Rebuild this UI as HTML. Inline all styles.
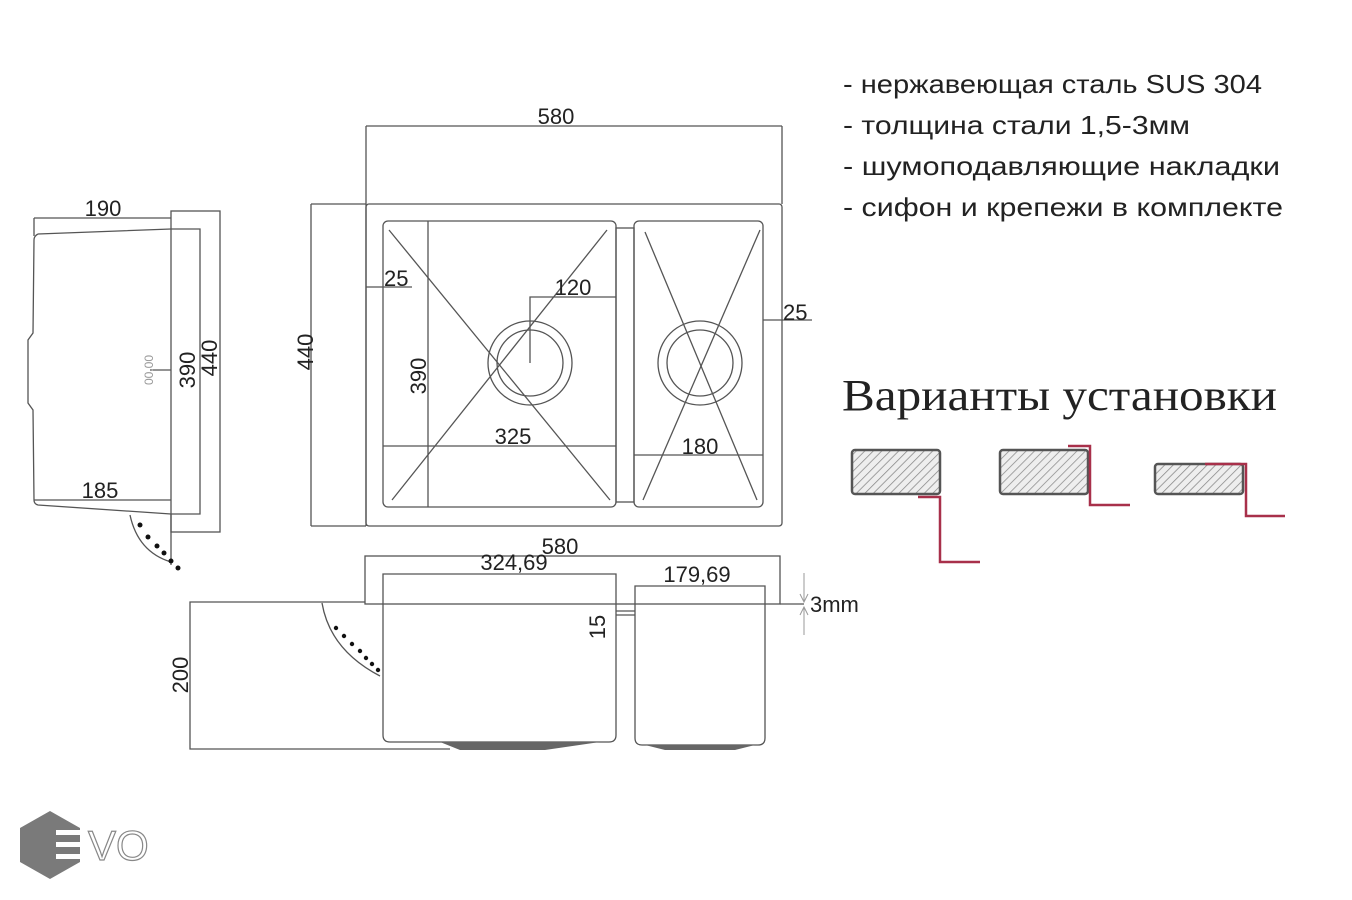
<!DOCTYPE html>
<html><head><meta charset="utf-8"><style>
body{margin:0;background:#fff;}
svg{display:block}
</style></head><body>
<svg width="1352" height="900" viewBox="0 0 1352 900" xmlns="http://www.w3.org/2000/svg">
<defs>
<pattern id="h" width="6" height="6" patternUnits="userSpaceOnUse" patternTransform="rotate(45)">
<rect width="6" height="6" fill="#eee"/><line x1="0" y1="0" x2="0" y2="6" stroke="#888" stroke-width="1.5"/>
</pattern>
</defs>
<g fill="none" stroke="#555" stroke-width="1.3">
<line x1="34" y1="218" x2="171" y2="218"/>
<line x1="34" y1="218" x2="34" y2="236"/>
<rect x="171" y="211" width="49" height="321"/>
<polyline points="171,229 200,229 200,514 171,514"/>
<path d="M38,234 L171,229 M38,234 Q34,236 34,240 L33,333 L28,340 L28,403 L33,410 L34,500 Q34,504 38,505 L171,514"/>
<line x1="34" y1="500" x2="171" y2="500"/>
<line x1="150" y1="370" x2="171" y2="370"/>
<path d="M130,515 Q138,552 171,562"/>
<line x1="171" y1="514" x2="171" y2="565"/>
<line x1="366" y1="126" x2="782" y2="126"/>
<line x1="366" y1="126" x2="366" y2="526"/>
<line x1="782" y1="126" x2="782" y2="204"/>
<rect x="366" y="204" width="416" height="322" rx="3"/>
<line x1="311" y1="204" x2="366" y2="204"/>
<line x1="311" y1="204" x2="311" y2="526"/>
<line x1="311" y1="526" x2="366" y2="526"/>
<rect x="383" y="221" width="233" height="286" rx="5"/>
<rect x="634" y="221" width="129" height="286" rx="5"/>
<rect x="616" y="228" width="18" height="274"/>
<line x1="428" y1="221" x2="428" y2="507"/>
<line x1="383" y1="446" x2="616" y2="446"/>
<line x1="634" y1="455" x2="763" y2="455"/>
<line x1="366" y1="287" x2="412" y2="287"/>
<polyline points="530,363 530,297 616,297"/>
<line x1="763" y1="320" x2="812" y2="320"/>
<circle cx="530" cy="363" r="42"/><circle cx="530" cy="363" r="33"/>
<circle cx="700" cy="363" r="42"/><circle cx="700" cy="363" r="33"/>
<line x1="389" y1="230" x2="610" y2="500"/>
<line x1="607" y1="230" x2="392" y2="500"/>
<line x1="645" y1="232" x2="757" y2="500"/>
<line x1="760" y1="230" x2="643" y2="500"/>
<rect x="365" y="556" width="415" height="48"/>
<path d="M383,574 L616,574 L616,735 Q616,742 609,742 L390,742 Q383,742 383,735 Z"/>
<path d="M635,586 L765,586 L765,738 Q765,745 758,745 L642,745 Q635,745 635,738 Z"/>
<polyline points="365,602 190,602 190,749 450,749"/>
<line x1="616" y1="611" x2="635" y2="611"/>
<line x1="616" y1="615" x2="635" y2="615"/>
<path d="M322,603 Q330,650 380,676"/>
<line x1="780" y1="604" x2="804" y2="604"/>
</g>
<g fill="#666" stroke="none">
<path d="M440,742 L600,742 L545,750 L460,750 Z"/>
<path d="M645,745 L755,745 L735,750 L665,750 Z"/>
</g>
<g stroke="#999" stroke-width="1" fill="none">
<line x1="804" y1="573" x2="804" y2="602"/><path d="M800,594 L804,602 L808,594"/>
<line x1="804" y1="607" x2="804" y2="635"/><path d="M800,615 L804,607 L808,615"/>
</g>
<g fill="#111">
<circle cx="140" cy="525" r="2.5"/><circle cx="148" cy="537" r="2.5"/><circle cx="157" cy="546" r="2.5"/><circle cx="164" cy="553" r="2.5"/><circle cx="171" cy="561" r="2.5"/><circle cx="178" cy="568" r="2.5"/>
<circle cx="336" cy="628" r="2.2"/><circle cx="344" cy="636" r="2.2"/><circle cx="352" cy="644" r="2.2"/><circle cx="360" cy="651" r="2.2"/><circle cx="366" cy="658" r="2.2"/><circle cx="372" cy="664" r="2.2"/><circle cx="378" cy="670" r="2.2"/>
</g>
<g font-family="Liberation Sans, Arial, sans-serif" font-size="22" fill="#222">
<text x="103" y="216" text-anchor="middle">190</text>
<text x="100" y="498" text-anchor="middle">185</text>
<text transform="translate(195,370) rotate(-90)" text-anchor="middle">390</text>
<text transform="translate(217,358) rotate(-90)" text-anchor="middle">440</text>
<text transform="translate(153,370) rotate(-90)" text-anchor="middle" font-size="12" fill="#999">00.00</text>
<text x="556" y="124" text-anchor="middle">580</text>
<text transform="translate(313,352) rotate(-90)" text-anchor="middle">440</text>
<text x="384" y="286">25</text>
<text x="573" y="295" text-anchor="middle">120</text>
<text x="783" y="320">25</text>
<text transform="translate(426,376) rotate(-90)" text-anchor="middle">390</text>
<text x="513" y="444" text-anchor="middle">325</text>
<text x="700" y="454" text-anchor="middle">180</text>
<text x="560" y="554" text-anchor="middle">580</text>
<text x="514" y="570" text-anchor="middle">324,69</text>
<text x="697" y="582" text-anchor="middle">179,69</text>
<text x="810" y="612">3mm</text>
<text transform="translate(605,627) rotate(-90)" text-anchor="middle">15</text>
<text transform="translate(188,675) rotate(-90)" text-anchor="middle">200</text>
</g>
<g font-family="Liberation Sans, 'DejaVu Sans', sans-serif" font-size="26" fill="#222">
<text x="843" y="93" textLength="419" lengthAdjust="spacingAndGlyphs">- нержавеющая сталь SUS 304</text>
<text x="843" y="134" textLength="347" lengthAdjust="spacingAndGlyphs">- толщина стали 1,5-3мм</text>
<text x="843" y="175" textLength="437" lengthAdjust="spacingAndGlyphs">- шумоподавляющие накладки</text>
<text x="843" y="216" textLength="440" lengthAdjust="spacingAndGlyphs">- сифон и крепежи в комплекте</text>
</g>
<text x="842" y="410" font-family="Liberation Serif, serif" font-size="44" fill="#222" textLength="435" lengthAdjust="spacingAndGlyphs">Варианты установки</text>
<g stroke="#555" stroke-width="2.5" fill="url(#h)">
<rect x="852" y="450" width="88" height="44" rx="3"/>
<rect x="1000" y="450" width="88" height="44" rx="3"/>
<rect x="1155" y="464" width="88" height="30" rx="3"/>
</g>
<g stroke="#a8304a" stroke-width="2.5" fill="none">
<polyline points="918,497 940,497 940,562 980,562"/>
<polyline points="1068,446 1090,446 1090,505 1130,505"/>
<polyline points="1205,464 1246,464 1246,516 1285,516"/>
</g>
<polygon points="50,811 80,828 80,862 50,879 20,862 20,828" fill="#7a7a7a"/>
<g fill="#fff"><rect x="56" y="830" width="28" height="5"/><rect x="56" y="842" width="28" height="5"/><rect x="56" y="854" width="28" height="5"/></g>
<text x="88" y="860" font-family="Liberation Sans, sans-serif" font-size="42" fill="none" stroke="#888" stroke-width="1.2">VO</text>
</svg>
</body></html>
